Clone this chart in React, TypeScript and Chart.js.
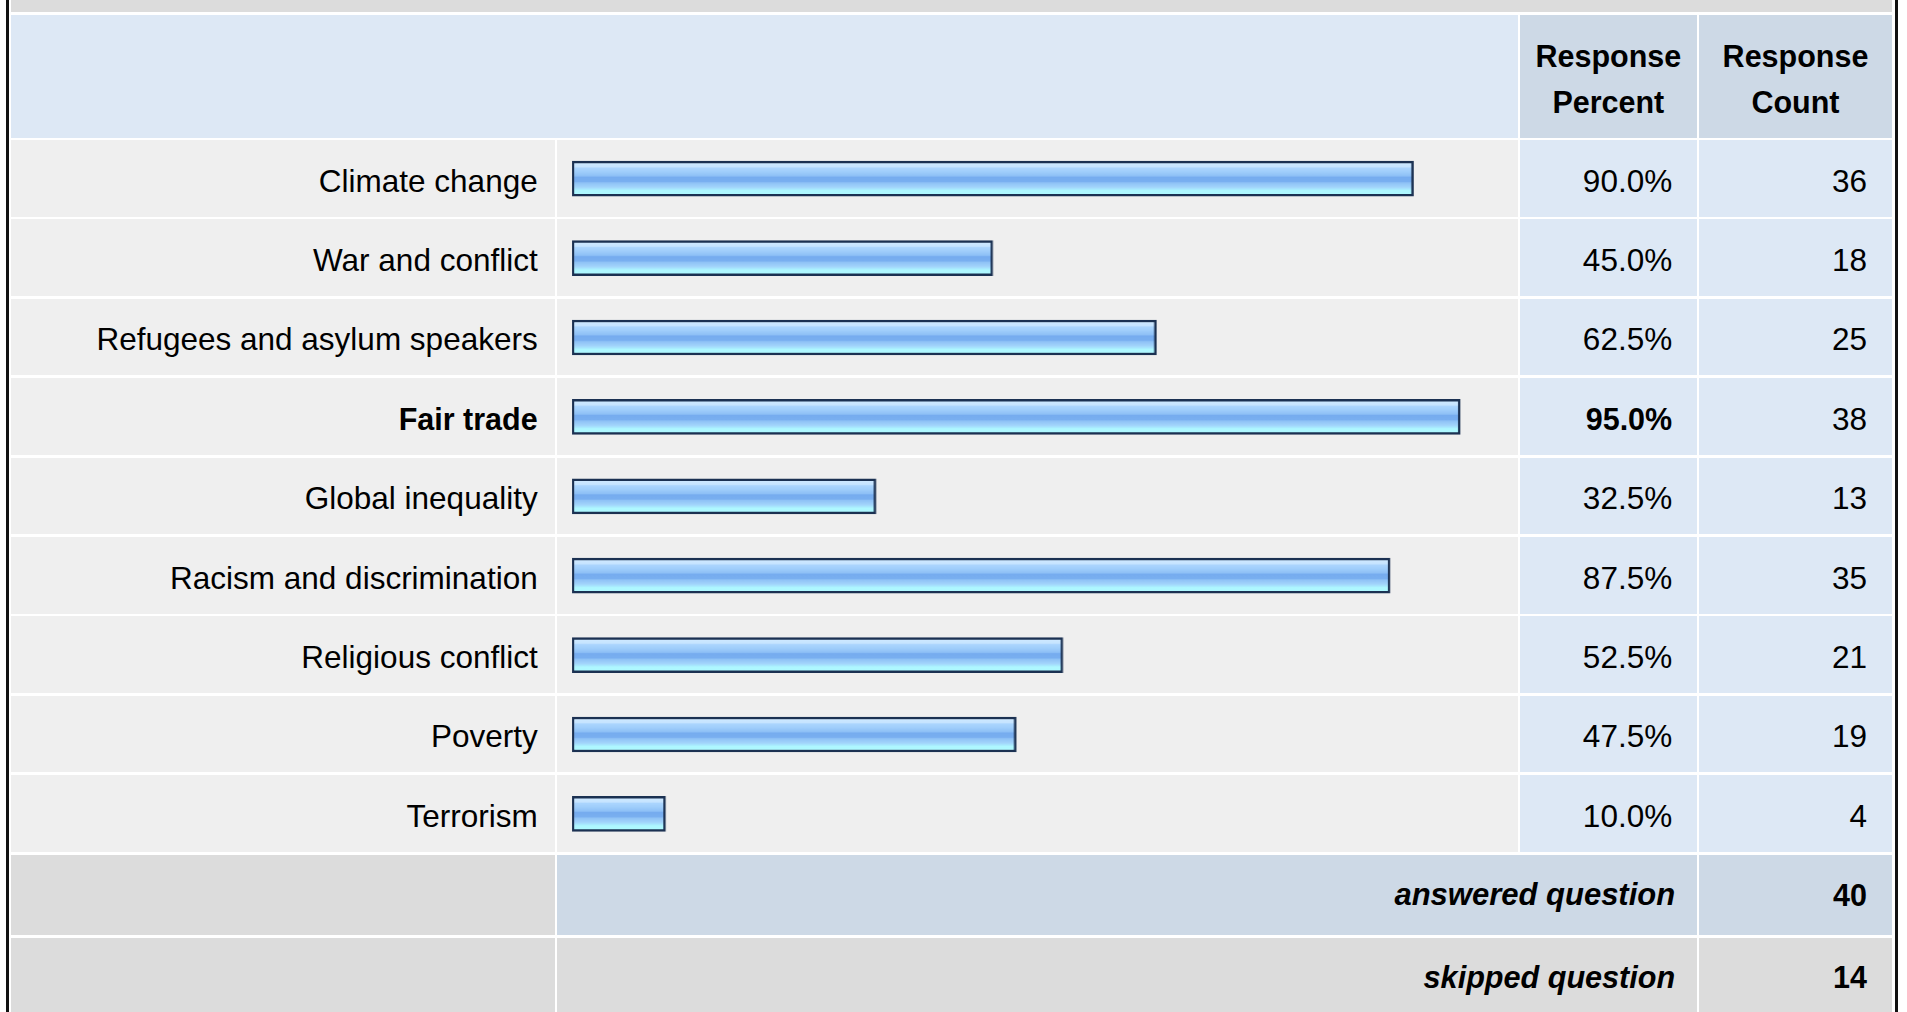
import React, { useEffect, useRef } from "react";
import { Chart, registerables } from "chart.js";

Chart.register(...registerables);

const categories = [
  "Climate change",
  "War and conflict",
  "Refugees and asylum speakers",
  "Fair trade",
  "Global inequality",
  "Racism and discrimination",
  "Religious conflict",
  "Poverty",
  "Terrorism",
];
const percents = [90.0, 45.0, 62.5, 95.0, 32.5, 87.5, 52.5, 47.5, 10.0];
const counts = [36, 18, 25, 38, 13, 35, 21, 19, 4];
const boldCategories = ["Fair trade"];
const headerPercent = ["Response", "Percent"];
const headerCount = ["Response", "Count"];
const summaryLabels = ["answered question", "skipped question"];
const summaryValues = [40, 14];

const FONT = '"Liberation Sans", Arial, Helvetica, sans-serif';
const FS = 31.5;
const FS_BOLD = 30.5;

// layout (px)
const X_A = 11, X_A2 = 554.7;
const X_B = 557, X_B2 = 1517.7;
const X_C = 1520, X_C2 = 1696.7;
const X_D = 1699, X_D2 = 1892;
const HEAD_T = 15, HEAD_B = 137.7;
const ROW_T = 140, ROW_PITCH = 79.4, ROW_H = 76.7;
const ANS_T = 855, ANS_B = 935;
const SKP_T = 937.7, SKP_B = 1020;

const C_GRAY = "#dcdcdc";
const C_LIGHT = "#efefef";
const C_BLUE_L = "#dde8f5";
const C_BLUE_D = "#cdd9e6";

function Cell(props: {
  x1: number; x2: number; y1: number; y2: number; bg: string;
  align?: "left" | "right" | "center"; pad?: number; children?: React.ReactNode;
  style?: React.CSSProperties;
}) {
  const { x1, x2, y1, y2, bg, align = "right", pad = 0, children, style } = props;
  return (
    <div
      style={{
        position: "absolute",
        left: x1,
        top: y1,
        width: x2 - x1,
        height: y2 - y1,
        background: bg,
        display: "flex",
        alignItems: "center",
        justifyContent: align === "right" ? "flex-end" : align === "left" ? "flex-start" : "center",
        boxSizing: "border-box",
        paddingRight: align === "right" ? pad : 0,
        paddingLeft: align === "left" ? pad : 0,
        fontFamily: FONT,
        fontSize: FS,
        color: "#000",
        whiteSpace: "nowrap",
        textAlign: align,
        ...style,
      }}
    >
      {children}
    </div>
  );
}

export default function App() {
  const canvasRef = useRef<HTMLCanvasElement | null>(null);

  useEffect(() => {
    if (!canvasRef.current) return;
    const BAR_T = 35;
    const chart = new Chart(canvasRef.current, {
      type: "bar",
      data: {
        labels: categories,
        datasets: [
          {
            data: percents,
            barThickness: BAR_T,
            borderWidth: 2.5,
            borderColor: "#1b3152",
            borderSkipped: false,
            backgroundColor: (ctx: any) => {
              const ch = ctx.chart;
              const ys = ch.scales && ch.scales.y;
              if (!ys || ctx.dataIndex == null) return "#8fc0f5";
              const c = ys.getPixelForValue(ctx.dataIndex);
              if (!Number.isFinite(c)) return "#8fc0f5";
              const g = ch.ctx.createLinearGradient(0, c - BAR_T / 2, 0, c + BAR_T / 2);
              g.addColorStop(0.0, "#d2ebff");
              g.addColorStop(0.16, "#c6e4ff");
              g.addColorStop(0.2, "#abd5fe");
              g.addColorStop(0.3, "#a0cefb");
              g.addColorStop(0.42, "#8ec0f6");
              g.addColorStop(0.46, "#76acef");
              g.addColorStop(0.58, "#79aff0");
              g.addColorStop(0.62, "#8fc2f6");
              g.addColorStop(0.74, "#a2d4fb");
              g.addColorStop(0.8, "#a8e8fe");
              g.addColorStop(0.84, "#aef7ff");
              g.addColorStop(1.0, "#aef9ff");
              return g;
            },
          },
        ],
      },
      options: {
        indexAxis: "y",
        animation: false,
        responsive: true,
        maintainAspectRatio: false,
        layout: { padding: { left: 15, right: 9.4, top: 0, bottom: 0 } },
        scales: {
          x: { display: false, min: 0, max: 100.25 },
          y: { display: false },
        },
        plugins: {
          legend: { display: false },
          tooltip: { enabled: false },
        },
      },
    } as any);
    return () => chart.destroy();
  }, []);

  const rows = categories.map((cat, i) => {
    const y1 = ROW_T + i * ROW_PITCH;
    const y2 = y1 + ROW_H;
    const bold = boldCategories.includes(cat);
    const txt: React.CSSProperties = { paddingTop: 5.6 };
    const boldTxt: React.CSSProperties = bold ? { fontWeight: "bold", fontSize: FS_BOLD } : {};
    return (
      <React.Fragment key={cat}>
        <Cell x1={X_A} x2={X_A2} y1={y1} y2={y2} bg={C_LIGHT} pad={17} style={{ ...txt, ...boldTxt }}>
          {cat}
        </Cell>
        <Cell x1={X_B} x2={X_B2} y1={y1} y2={y2} bg={C_LIGHT} />
        <Cell x1={X_C} x2={X_C2} y1={y1} y2={y2} bg={C_BLUE_L} pad={24.5} style={{ ...txt, ...boldTxt }}>
          {percents[i].toFixed(1) + "%"}
        </Cell>
        <Cell x1={X_D} x2={X_D2} y1={y1} y2={y2} bg={C_BLUE_L} pad={25} style={txt}>
          {String(counts[i])}
        </Cell>
      </React.Fragment>
    );
  });

  const headStyle: React.CSSProperties = {
    fontWeight: "bold",
    fontSize: FS_BOLD,
    lineHeight: "46px",
    flexDirection: "column",
    justifyContent: "center",
    paddingTop: 5.4,
  };

  return (
    <div
      style={{
        position: "fixed",
        left: 0,
        top: 0,
        width: 1907,
        height: 1012,
        overflow: "hidden",
        background: "#ffffff",
      }}
    >
      {/* outer frame lines */}
      <div style={{ position: "absolute", left: 6, top: 0, width: 2.5, height: 1012, background: "#111" }} />
      <div style={{ position: "absolute", left: 1895, top: 0, width: 2.5, height: 1012, background: "#111" }} />

      {/* top band */}
      <Cell x1={X_A} x2={X_D2} y1={0} y2={12} bg={C_GRAY} />

      {/* header */}
      <Cell x1={X_A} x2={X_B2} y1={HEAD_T} y2={HEAD_B} bg={C_BLUE_L} />
      <Cell x1={X_C} x2={X_C2} y1={HEAD_T} y2={HEAD_B} bg={C_BLUE_D} align="center" style={headStyle}>
        {headerPercent.map((t) => (
          <div key={t}>{t}</div>
        ))}
      </Cell>
      <Cell x1={X_D} x2={X_D2} y1={HEAD_T} y2={HEAD_B} bg={C_BLUE_D} align="center" style={headStyle}>
        {headerCount.map((t) => (
          <div key={t}>{t}</div>
        ))}
      </Cell>

      {rows}

      {/* summary rows */}
      <Cell x1={X_A} x2={X_A2} y1={ANS_T} y2={ANS_B} bg={C_GRAY} />
      <Cell x1={X_B} x2={X_C2} y1={ANS_T} y2={ANS_B} bg={C_BLUE_D} pad={21.5} style={{ fontWeight: "bold", fontStyle: "italic", fontSize: 31 }}>
        {summaryLabels[0]}
      </Cell>
      <Cell x1={X_D} x2={X_D2} y1={ANS_T} y2={ANS_B} bg={C_BLUE_D} pad={25} style={{ fontWeight: "bold", fontSize: FS_BOLD }}>
        {String(summaryValues[0])}
      </Cell>
      <Cell x1={X_A} x2={X_A2} y1={SKP_T} y2={SKP_B} bg={C_GRAY} />
      <Cell x1={X_B} x2={X_C2} y1={SKP_T} y2={SKP_B} bg={C_GRAY} pad={21.5} style={{ fontWeight: "bold", fontStyle: "italic", fontSize: 30.6, paddingBottom: 3 }}>
        {summaryLabels[1]}
      </Cell>
      <Cell x1={X_D} x2={X_D2} y1={SKP_T} y2={SKP_B} bg={C_GRAY} pad={25} style={{ fontWeight: "bold", fontSize: FS_BOLD, paddingBottom: 3 }}>
        {String(summaryValues[1])}
      </Cell>

      {/* bar chart over the bar column */}
      <div
        style={{
          position: "absolute",
          left: X_B,
          top: ROW_T - 1.35,
          width: X_B2 - X_B,
          height: ROW_PITCH * categories.length,
        }}
      >
        <canvas ref={canvasRef} />
      </div>
    </div>
  );
}
